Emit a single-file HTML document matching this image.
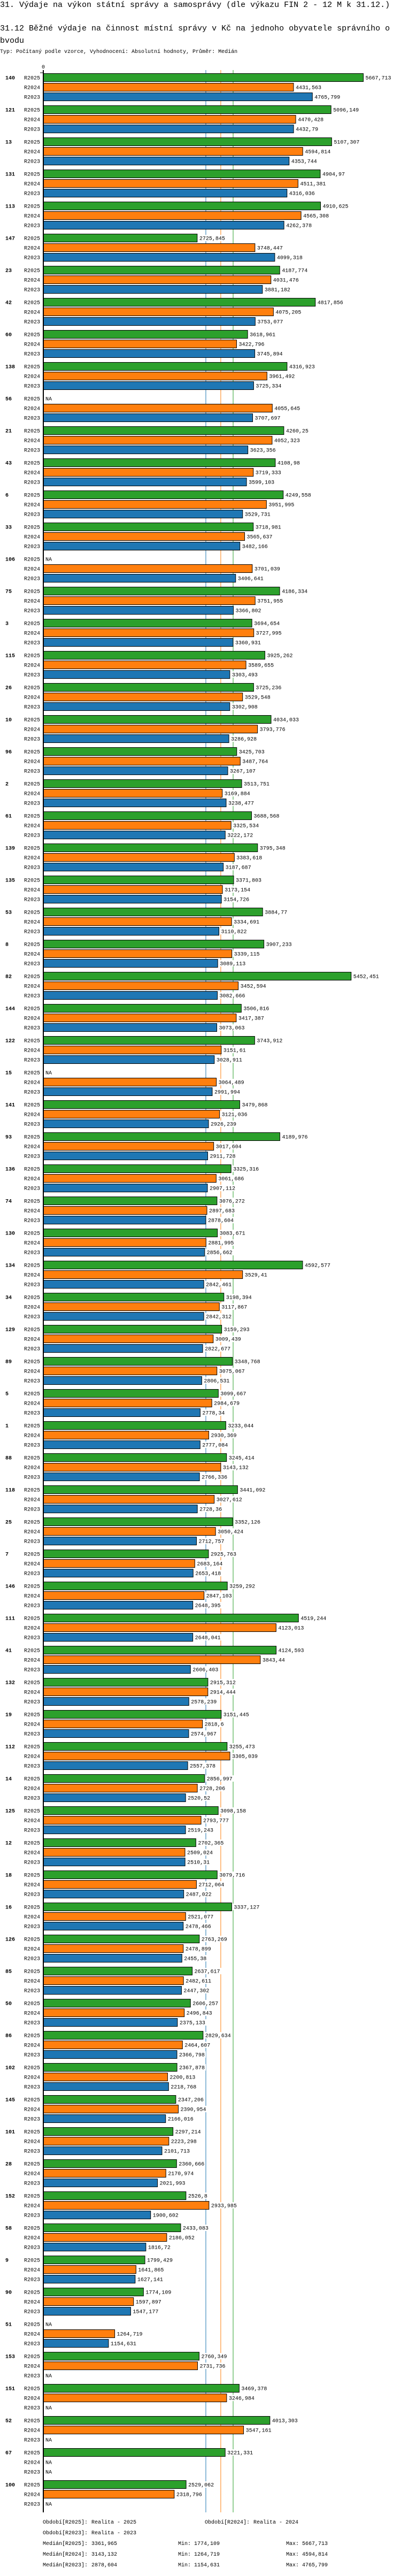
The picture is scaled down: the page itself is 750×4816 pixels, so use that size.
<!DOCTYPE html>
<html><head><meta charset="utf-8">
<style>
html,body{margin:0;padding:0;background:#fff;}
svg{display:block;}
text{font-family:"Liberation Mono","DejaVu Sans Mono",monospace;fill:#000;}
</style></head>
<body>
<svg id="chart" width="750" height="4816" viewBox="0 0 750 4816" xmlns="http://www.w3.org/2000/svg">
<text x="0" y="13" font-size="15">31. Výdaje na výkon státní správy a samosprávy (dle výkazu FIN 2 - 12 M k 31.12.)</text>
<text x="0" y="57" font-size="15">31.12 Běžné výdaje na činnost místní správy v Kč na jednoho obyvatele správního o</text>
<text x="0" y="80" font-size="15">bvodu</text>
<text x="0" y="99" font-size="10">Typ: Počítaný podle vzorce, Vyhodnocení: Absolutní hodnoty, Průměr: Medián</text>
</svg>
<script>
const categories = ["140","121","13","131","113","147","23","42","60","138","56","21","43","6","33","106","75","3","115","26","10","96","2","61","139","135","53","8","82","144","122","15","141","93","136","74","130","134","34","129","89","5","1","88","118","25","7","146","111","41","132","19","112","14","125","12","18","16","126","85","50","86","102","145","101","28","152","58","9","90","51","153","151","52","67","100"];
const r2025 = [5667.713,5096.149,5107.307,4904.97,4910.625,2725.845,4187.774,4817.856,3618.961,4316.923,null,4260.25,4108.98,4249.558,3718.981,null,4186.334,3694.654,3925.262,3725.236,4034.033,3425.703,3513.751,3688.568,3795.348,3371.803,3884.77,3907.233,5452.451,3506.816,3743.912,null,3479.868,4189.976,3325.316,3076.272,3083.671,4592.577,3198.394,3159.293,3348.768,3099.667,3233.044,3245.414,3441.092,3352.126,2925.763,3259.292,4519.244,4124.593,2915.312,3151.445,3255.473,2856.997,3098.158,2702.365,3079.716,3337.127,2763.269,2637.617,2606.257,2829.634,2367.878,2347.206,2297.214,2360.666,2526.8,2433.083,1799.429,1774.109,null,2760.349,3469.378,4013.303,3221.331,2529.062];
const r2024 = [4431.563,4470.428,4594.814,4511.381,4565.308,3748.447,4031.476,4075.205,3422.796,3961.492,4055.645,4052.323,3719.333,3951.995,3565.637,3701.039,3751.955,3727.995,3589.655,3529.548,3793.776,3487.764,3169.884,3325.534,3383.618,3173.154,3334.691,3339.115,3452.594,3417.387,3151.61,3064.489,3121.036,3017.604,3061.686,2897.683,2881.995,3529.41,3117.867,3009.439,3075.067,2984.679,2930.369,3143.132,3027.612,3050.424,2683.164,2847.103,4123.013,3843.44,2914.444,2818.6,3305.039,2728.206,2793.777,2509.024,2712.064,2521.077,2478.899,2482.611,2496.843,2464.607,2200.813,2390.954,2223.298,2170.974,2933.985,2186.052,1641.865,1597.897,1264.719,2731.736,3246.984,3547.161,null,2318.796];
const r2023 = [4765.799,4432.79,4353.744,4316.036,4262.378,4099.318,3881.182,3753.077,3745.894,3725.334,3707.697,3623.356,3599.103,3529.731,3482.166,3406.641,3366.802,3360.931,3303.493,3302.908,3286.928,3267.107,3238.477,3222.172,3187.687,3154.726,3110.822,3089.113,3082.666,3073.063,3028.911,2991.994,2926.239,2911.728,2907.112,2878.604,2856.662,2842.461,2842.312,2822.677,2806.531,2778.34,2777.084,2766.336,2728.36,2712.757,2653.418,2648.395,2648.041,2606.403,2578.239,2574.967,2557.378,2520.52,2519.243,2510.31,2487.022,2478.466,2455.38,2447.302,2375.133,2366.798,2218.768,2166.016,2101.713,2021.993,1900.602,1816.72,1627.141,1547.177,1154.631,null,null,null,null,null];
const seriesNames = ["R2025","R2024","R2023"];
const medians = [3361.965,3143.132,2878.604];
const mins = [1774.109,1264.719,1154.631];
const maxs = [5667.713,4594.814,4765.799];
const periodLabels = ["Realita - 2025","Realita - 2024","Realita - 2023"];

const colors = ["#2ca02c","#ff7f0e","#1f77b4"];
const svg = document.getElementById('chart');
const NS = "http://www.w3.org/2000/svg";
const X0 = 81, SCALE = 0.1056, Y0 = 145, GROUP = 60, ROW = 18;
function xs(v){ return X0 + v*SCALE; }
function ys(g, r){ return Y0 + g*GROUP + r*ROW; }
function mk(tag, attrs){ const e=document.createElementNS(NS,tag); for(const k in attrs) e.setAttribute(k,attrs[k]); svg.appendChild(e); return e; }
function fmt(v){ return String(v).replace('.',','); }
const series = [r2025, r2024, r2023];
const lastY = ys(categories.length-1, 2) + 9;

// median lines
for (let s=2; s>=0; s--) {
  const ml = mk('line',{x1:xs(medians[s]),x2:xs(medians[s]),y1:131,y2:lastY+7,stroke:colors[s],'stroke-width':1});
  
  
}
// zero tick label
const zl = mk('text',{x:X0-3,y:128,'font-size':10});
zl.textContent = '0';



categories.forEach((cat, g) => {
  const gl = mk('text',{x:10,y:ys(g,0)+3.5,'font-size':10,'font-weight':'bold'});
  gl.textContent = cat;
  
  
  for (let s=0; s<3; s++) {
    const cy = ys(g,s);
    const sl = mk('text',{x:45,y:cy+3.5,'font-size':10});
    sl.textContent = seriesNames[s];
    
    
    const v = series[s][g];
    if (v === null) {
      const na = mk('text',{x:X0+4,y:cy+3.5,'font-size':10});
      na.textContent = 'NA';
      
      
      continue;
    }
    const b = mk('rect',{x:X0+0.5,y:cy-7.5,width:xs(v)-X0-0.5,height:15,fill:colors[s],stroke:'#000','stroke-width':1});
    
    
    const t = fmt(v);
    const bg = mk('rect',{x:xs(v)+2,y:cy-6,width:t.length*6+4,height:12,fill:'#fff'});
    
    
    const vl = mk('text',{x:xs(v)+4,y:cy+3.5,'font-size':10});
    vl.textContent = t;
    
    
  }
});
// axis
const ax = mk('line',{x1:X0,x2:X0,y1:131,y2:lastY+7,stroke:'#000','stroke-width':2});


const tk = mk('line',{x1:X0-6,x2:X0,y1:136,y2:136,stroke:'#000','stroke-width':1});



// legend
const LY = lastY + 7 + 21;
function lt(x,y,str,name){ const e=mk('text',{x:x,y:y,'font-size':10}); e.textContent=str;   return e; }
lt(80, LY, 'Období['+seriesNames[0]+']:', 'legend-period-key');
lt(171, LY, periodLabels[0], 'legend-period-value');
lt(383, LY, 'Období['+seriesNames[1]+']:', 'legend-period-key');
lt(474, LY, periodLabels[1], 'legend-period-value');
lt(80, LY+20, 'Období['+seriesNames[2]+']:', 'legend-period-key');
lt(171, LY+20, periodLabels[2], 'legend-period-value');
for (let s=0; s<3; s++) {
  const y = LY + 40 + s*20;
  lt(80, y, 'Medián['+seriesNames[s]+']:', 'legend-median-key');
  lt(171, y, fmt(medians[s]), 'legend-median-value');
  lt(333, y, 'Min:', 'legend-min-key');
  lt(363, y, fmt(mins[s]), 'legend-min-value');
  lt(535, y, 'Max:', 'legend-max-key');
  lt(565, y, fmt(maxs[s]), 'legend-max-value');
}
</script>
</body></html>
